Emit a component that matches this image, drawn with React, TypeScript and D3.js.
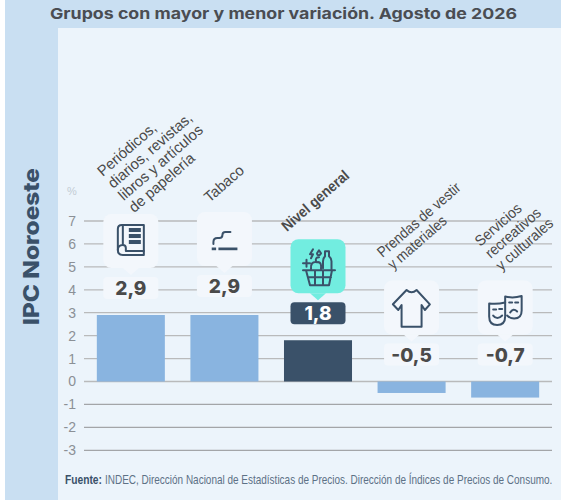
import React, { useRef, useEffect } from "react";
import * as d3 from "d3";

const WIDTH = 573;
const HEIGHT = 500;

const categories = [
  "Periódicos, diarios, revistas, libros y artículos de papelería",
  "Tabaco",
  "Nivel general",
  "Prendas de vestir y materiales",
  "Servicios recreativos y culturales",
];
const categoryLines = [
  ["Periódicos,", "diarios, revistas,", "libros y artículos", "de papelería"],
  ["Tabaco"],
  ["Nivel general"],
  ["Prendas de vestir", "y materiales"],
  ["Servicios", "recreativos", "y culturales"],
];
const values = [2.9, 2.9, 1.8, -0.5, -0.7];
const valueLabels = ["2,9", "2,9", "1,8", "-0,5", "-0,7"];
const yTicks = [-3, -2, -1, 0, 1, 2, 3, 4, 5, 6, 7];

const DARK = "#3a5169";
const NARROW = "'Liberation Sans Narrow', 'Liberation Sans', sans-serif";
const HEAD = "Inter, 'Open Sans', sans-serif";

// offsets of the rotated labels from the band centre / top of page
const labelDx = [-28, -15, -31, -29, -25];
const labelY = [177, 203, 232, 258, 247];
const labelScale = [0.98, 0.98, 0.9, 0.9, 0.93];
const chipNudge = [0, -2, 0, 0, 0];

// icons, drawn around the centre of a 54px card
function drawIcon(g: d3.Selection<SVGGElement, unknown, null, undefined>, i: number) {
  const path = (d: string) =>
    g.append("path").attr("d", d).attr("fill", "none").attr("stroke", DARK)
      .attr("stroke-width", 2).attr("stroke-linejoin", "round").attr("stroke-linecap", "round");
  const bar = (x: number, y: number, w: number, h: number) =>
    g.append("rect").attr("x", x).attr("y", y).attr("width", w).attr("height", h).attr("fill", DARK);

  if (i === 0) {
    path("M-9,-16 H13 V14 H-8 Q-13,14 -13,9 V-12 Q-13,-16 -9,-16");
    path("M-8,-16 V4 M-13,9 Q-13,4 -8,4 Q-5,4 -5,7 V10 H13");
    bar(-2, -13, 12, 4);
    bar(-2, -7, 12, 4);
    bar(-2, -1, 12, 4);
  } else if (i === 1) {
    bar(-12.7, 8.5, 4.4, 2.7);
    bar(-6, 8.5, 19, 2.7);
    path("M-11,5 V3 Q-11,-1 -7,-1 H-5 Q-2,-1 -2,-4 Q-2,-7 1,-7 H6");
  } else if (i === 2) {
    path("M-15,4 H17 M-12,4 L-8,19 H11 L14,4 M-10,11 H13 M-3,4 V19 M5,4 V19");
    path("M5,2 V-5 Q5,-8 7,-10 V-15 H11 V-10 Q13.5,-8 13.5,-5 V3");
    path("M-7,3 Q-8,-5 -1,-4 Q4,-5 3,3 M-2,-5 Q-3,-9 1,-9");
    path("M-15,-3 H-8 M-11.5,-6.5 V0.5");
    path("M-5,-17 L-8,-12 H-5 L-7,-8");
    path("M1,-16 L3,-13 Q2,-11 1,-11 Q-1,-11 -1,-13 Z");
  } else if (i === 3) {
    path("M-5,-17.5 Q0,-13 5,-17.5 L18.3,-3.2 L13.3,2.5 L10,-2.5 V19.2 H-10 V-2.5 L-13.3,2.5 L-18.7,-3.2 Z");
  } else {
    path("M0,-5 V-11 Q8,-9 16.5,-11.5 V3 Q16.5,11 9,11 Q5,11 2,8");
    path("M-16,-4 Q-8,-3 0,-5 V9 Q0,17.5 -8,17.5 Q-16,17.5 -16,9 Z");
    path("M-12,2 H-9 M-6,1.5 H-3 M-12,8 Q-8,13 -3,8");
    path("M4,-5 H7 M10,-5 H13 M5,5 Q8,0 12,4");
  }
}

export default function App() {
  const svgRef = useRef<SVGSVGElement | null>(null);

  useEffect(() => {
    const svg = d3.select(svgRef.current);
    svg.selectAll("*").remove();

    const x = d3.scaleBand<string>().domain(categories).range([84, 552]).paddingInner(0.273).paddingOuter(0.137);
    const y = d3.scaleLinear().domain([-3, 7]).range([450.3, 221]);

    // Background
    svg.append("rect").attr("x", 5).attr("y", 0).attr("width", 556).attr("height", HEIGHT).attr("fill", "#c9dff2");
    svg.append("rect").attr("x", 58).attr("y", 28).attr("width", 503).attr("height", HEIGHT - 28).attr("fill", "#ecf4fb");

    // Title
    svg.append("text").attr("x", 50).attr("y", 19).attr("textLength", 467).attr("lengthAdjust", "spacingAndGlyphs")
      .attr("font-family", HEAD).attr("font-size", 15).attr("font-weight", 700).attr("fill", "#4a4d52")
      .text("Grupos con mayor y menor variación. Agosto de 2026");
    svg.append("text").attr("transform", "translate(39,325) rotate(-90)").attr("textLength", 157).attr("lengthAdjust", "spacingAndGlyphs")
      .attr("font-family", HEAD).attr("font-size", 22).attr("font-weight", 800).attr("fill", DARK)
      .text("IPC Noroeste");

    // Axis and grid
    const axis = svg.append("g").attr("transform", "translate(84,0)")
      .call(d3.axisLeft(y).tickValues(yTicks).tickSize(0).tickPadding(8).tickFormat((d) => String(d)));
    axis.select(".domain").remove();
    axis.selectAll("text").attr("font-family", "'Liberation Sans', sans-serif").attr("font-size", 14).attr("fill", "#8b9096");
    svg.append("text").attr("x", 67).attr("y", 195).attr("font-family", "'Liberation Sans', sans-serif")
      .attr("font-size", 11).attr("fill", "#c3ccd4").text("%");
    svg.append("g").selectAll("line").data(yTicks).join("line")
      .attr("x1", 84).attr("x2", 552).attr("y1", (d) => y(d)).attr("y2", (d) => y(d))
      .attr("stroke", (d) => (d < 0 ? "#a3a5a8" : "#b9babb")).attr("stroke-width", 1.3);

    // Bars
    svg.append("g").selectAll("rect").data(values).join("rect")
      .attr("x", (_, i) => x(categories[i])!)
      .attr("width", x.bandwidth())
      .attr("y", (d) => y(Math.max(d, 0)))
      .attr("height", (d) => Math.abs(y(d) - y(0)))
      .attr("fill", (_, i) => (i === 2 ? DARK : "#89b4e0"));

    // Cards, value chips, icons
    values.forEach((v, i) => {
      const cx = x(categories[i])! + x.bandwidth() / 2;
      const chipBottom = y(Math.max(v, 0)) - 16 + chipNudge[i];
      const chipTop = chipBottom - 22;
      const cardTop = chipTop - 63;
      const cardBottom = cardTop + 54;
      const cardFill = i === 2 ? "#72ede0" : "#f3f7fc";
      const chipFill = i === 2 ? DARK : "#f3f7fc";
      const g = svg.append("g");
      g.append("rect").attr("x", cx - 27.5).attr("y", cardTop).attr("width", 55).attr("height", 54).attr("rx", 8).attr("fill", cardFill);
      g.append("path").attr("d", `M${cx - 8},${cardBottom} L${cx},${cardBottom + 7} L${cx + 8},${cardBottom} Z`).attr("fill", cardFill);
      g.append("rect").attr("x", cx - 27.5).attr("y", chipTop).attr("width", 55).attr("height", 22).attr("rx", 4).attr("fill", chipFill);
      g.append("text").attr("x", cx).attr("y", chipTop + 18).attr("text-anchor", "middle")
        .attr("font-family", HEAD).attr("font-size", 19).attr("font-weight", 800)
        .attr("fill", i === 2 ? "#fff" : "#4a4a4a").text(valueLabels[i]);
      const icon = g.append("g").attr("transform", `translate(${cx},${cardTop + 27})`);
      drawIcon(icon, i);
    });

    // Rotated category labels
    const ANGLE = -41;
    const PITCH = 16;
    const rad = (ANGLE * Math.PI) / 180;
    categoryLines.forEach((lines, i) => {
      const cx = x(categories[i])! + x.bandwidth() / 2 + labelDx[i];
      lines.forEach((line, j) => {
        const lx = cx - Math.sin(rad) * PITCH * j;
        const ly = labelY[i] + Math.cos(rad) * PITCH * j;
        svg.append("text").attr("transform", `translate(${lx},${ly}) rotate(${ANGLE}) scale(${labelScale[i]},1)`)
          .attr("font-family", NARROW).attr("font-size", 15).attr("font-weight", i === 2 ? 700 : 400)
          .attr("fill", "#4a4a4a").text(line);
      });
    });

    // Source, squeezed to the width it has in the picture
    const fitted = (txt: string, left: number, width: number, weight: number, fill: string) => {
      const t = svg.append("text").attr("font-family", NARROW).attr("font-size", 12.5)
        .attr("font-weight", weight).attr("fill", fill).text(txt);
      const natural = (t.node() as SVGTextElement).getComputedTextLength();
      t.attr("transform", `translate(${left},484) scale(${width / natural},1)`);
    };
    fitted("Fuente:", 65, 37, 700, DARK);
    fitted("INDEC, Dirección Nacional de Estadísticas de Precios. Dirección de Índices de Precios de Consumo.", 105, 448, 400, "#5d7186");
  }, []);

  return <svg ref={svgRef} width={WIDTH} height={HEIGHT} style={{ position: "absolute", left: 0, top: 0 }} />;
}
